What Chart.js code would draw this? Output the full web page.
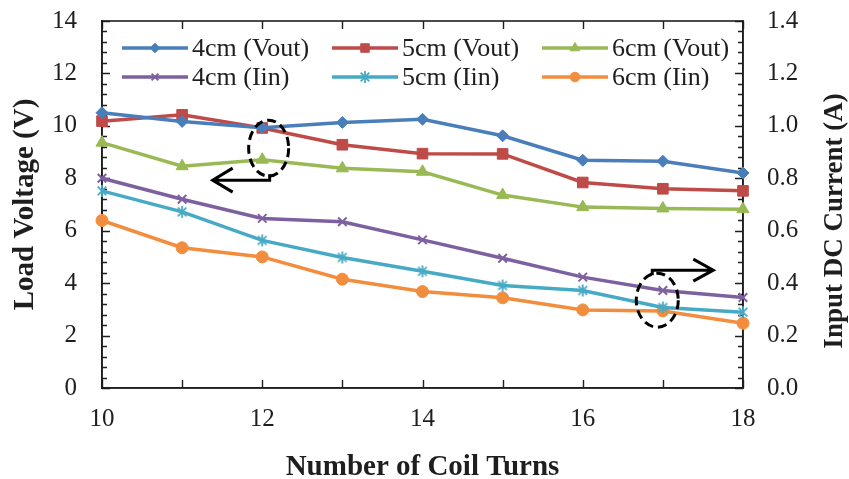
<!DOCTYPE html>
<html>
<head>
<meta charset="utf-8">
<title>Load Voltage and Input DC Current vs Number of Coil Turns</title>
<script src="https://cdn.jsdelivr.net/npm/chart.js@4.4.1/dist/chart.umd.min.js"></script>
<style>
  html, body { margin: 0; padding: 0; background: #ffffff; }
  #wrap { width: 849px; height: 479px; position: relative; }
</style>
</head>
<body>
<div id="wrap"><canvas id="chart"></canvas></div>
<script>
// Number of coil turns (x axis)
const turns = [10, 11, 12, 13, 14, 15, 16, 17, 18];

// Load voltage (V), left axis
const vout4cm = [10.50, 10.17, 9.93, 10.13, 10.25, 9.62, 8.69, 8.65, 8.20];
const vout5cm = [10.18, 10.42, 9.92, 9.28, 8.94, 8.93, 7.84, 7.60, 7.52];
const vout6cm = [9.36, 8.46, 8.71, 8.38, 8.25, 7.36, 6.90, 6.85, 6.82];

// Input DC current (A), right axis
const iin4cm = [0.800, 0.720, 0.647, 0.634, 0.565, 0.495, 0.423, 0.372, 0.345];
const iin5cm = [0.752, 0.672, 0.563, 0.498, 0.445, 0.391, 0.372, 0.307, 0.289];
const iin6cm = [0.639, 0.535, 0.500, 0.415, 0.368, 0.344, 0.298, 0.294, 0.247];

const seriesNames = ['4cm (Vout)', '5cm (Vout)', '6cm (Vout)', '4cm (Iin)', '5cm (Iin)', '6cm (Iin)'];

// Axis ranges and tick labels
const xTickValues = [10, 12, 14, 16, 18];
const voltTicks = [0, 2, 4, 6, 8, 10, 12, 14];
const currTicks = ['0.0', '0.2', '0.4', '0.6', '0.8', '1.0', '1.2', '1.4'];
const axisTitles = { x: 'Number of Coil Turns', left: 'Load Voltage (V)', right: 'Input DC Current (A)' };

const FONT = "'Liberation Serif', 'Times New Roman', serif";
const INK = '#1e1e1e';
const COLORS = ['#4A7EBB', '#BE4B48', '#98B954', '#7D60A0', '#46AAC5', '#F38D3E'];

// Office-style "star" marker: an x with a vertical bar
function officeStar(r, color) {
  const s = Math.ceil(2 * r + 4);
  const cv = document.createElement('canvas');
  cv.width = s; cv.height = s;
  const g = cv.getContext('2d');
  const c = s / 2, d = r * 0.72;
  g.strokeStyle = color; g.lineWidth = 1.8;
  g.beginPath();
  g.moveTo(c - d, c - d); g.lineTo(c + d, c + d);
  g.moveTo(c + d, c - d); g.lineTo(c - d, c + d);
  g.moveTo(c, c - r); g.lineTo(c, c + r);
  g.stroke();
  return cv;
}

const markers = [
  { style: 'rectRot', radius: 6, bw: 1 },
  { style: 'rect', radius: 7.5, bw: 1 },
  { style: 'triangle', radius: 7, bw: 1 },
  { style: 'crossRot', radius: 6, bw: 2 },
  { style: officeStar(6, COLORS[4]), radius: 6, bw: 1 },
  { style: 'circle', radius: 6, bw: 1 }
];

const seriesData = [vout4cm, vout5cm, vout6cm, iin4cm, iin5cm, iin6cm];

const datasets = seriesData.map((vals, i) => ({
  label: seriesNames[i],
  data: turns.map((t, k) => ({ x: t, y: vals[k] })),
  yAxisID: i < 3 ? 'y' : 'y1',
  borderColor: COLORS[i],
  backgroundColor: COLORS[i],
  pointBackgroundColor: COLORS[i],
  pointBorderColor: COLORS[i],
  borderWidth: 3.5,
  pointStyle: markers[i].style,
  pointRadius: markers[i].radius,
  pointHoverRadius: markers[i].radius,
  pointBorderWidth: markers[i].bw,
  tension: 0,
  clip: false
}));

// Frame around the plot area plus inward tick marks on all four sides
const framePlugin = {
  id: 'frame',
  beforeDatasetsDraw(chart) {
    const { ctx, chartArea: a, scales } = chart;
    ctx.save();
    ctx.strokeStyle = INK;
    ctx.lineWidth = 1.6;
    ctx.strokeRect(a.left, a.top, a.right - a.left, a.bottom - a.top);
    ctx.lineWidth = 1.4;
    ctx.beginPath();
    // x: a tick at every turn count, bottom and top
    for (let t = 10; t <= 18; t++) {
      const px = Math.round(scales.x.getPixelForValue(t)) + 0.5;
      ctx.moveTo(px, a.bottom); ctx.lineTo(px, a.bottom - 8);
      ctx.moveTo(px, a.top); ctx.lineTo(px, a.top + 8);
    }
    // left: major every 2 V, minor every 0.4 V
    for (let k = 0; k <= 35; k++) {
      const py = Math.round(scales.y.getPixelForValue(k * 0.4)) + 0.5;
      const len = (k % 5 === 0) ? 8 : 5;
      ctx.moveTo(a.left, py); ctx.lineTo(a.left + len, py);
    }
    // right: major every 0.2 A, minor every 0.04 A
    for (let k = 0; k <= 35; k++) {
      const py = Math.round(scales.y1.getPixelForValue(k * 0.04)) + 0.5;
      const len = (k % 5 === 0) ? 8 : 5;
      ctx.moveTo(a.right, py); ctx.lineTo(a.right - len, py);
    }
    ctx.stroke();
    ctx.restore();
  },
  afterDatasetsDraw(chart) {
    const { ctx, chartArea: a, scales } = chart;
    const helpers = Chart.helpers;
    ctx.save();

    // In-plot legend, two rows of three
    const colX = [122, 332, 542];
    const rowY = [48, 77];
    seriesNames.forEach((name, i) => {
      const x0 = colX[i % 3], y = rowY[Math.floor(i / 3)];
      ctx.strokeStyle = COLORS[i];
      ctx.fillStyle = COLORS[i];
      ctx.lineWidth = 3.5;
      ctx.lineCap = 'butt';
      ctx.beginPath(); ctx.moveTo(x0, y); ctx.lineTo(x0 + 66, y); ctx.stroke();
      ctx.lineWidth = markers[i].bw;
      helpers.drawPoint(ctx, {
        pointStyle: markers[i].style,
        radius: markers[i].radius * 0.8,
        borderWidth: markers[i].bw,
        rotation: 0
      }, x0 + 33, y);
      ctx.font = '26px ' + FONT;
      ctx.textBaseline = 'middle';
      ctx.textAlign = 'left';
      ctx.fillStyle = INK;
      ctx.fillText(name, x0 + 70, y + 1);
    });

    // Right-hand axis title, reading bottom to top
    ctx.save();
    ctx.font = 'bold 27px ' + FONT;
    ctx.fillStyle = INK;
    ctx.textAlign = 'center';
    ctx.textBaseline = 'middle';
    ctx.translate(835, 221);
    ctx.rotate(-Math.PI / 2);
    ctx.fillText(axisTitles.right, 0, 0);
    ctx.restore();

    // Dashed ellipses with arrows pointing to the axis each group uses
    ctx.strokeStyle = '#000';
    ctx.lineWidth = 3;
    const e1x = scales.x.getPixelForValue(12.08), e1y = scales.y.getPixelForValue(9.15);
    const e2x = scales.x.getPixelForValue(16.93), e2y = scales.y1.getPixelForValue(0.335);
    ctx.setLineDash([9, 5]);
    ctx.beginPath(); ctx.ellipse(e1x, e1y, 20, 28, 0, 0, Math.PI * 2); ctx.stroke();
    ctx.beginPath(); ctx.ellipse(e2x, e2y, 21, 27, 0, 0, Math.PI * 2); ctx.stroke();
    ctx.setLineDash([]);

    // arrow to the left axis
    let ay = e1y + 32;
    ctx.beginPath();
    ctx.moveTo(e1x + 1, e1y + 26); ctx.lineTo(e1x + 1, ay); ctx.lineTo(e1x - 56, ay);
    ctx.moveTo(e1x - 36, ay - 12); ctx.lineTo(e1x - 56, ay); ctx.lineTo(e1x - 36, ay + 12);
    ctx.stroke();

    // arrow to the right axis
    ay = e2y - 30;
    ctx.beginPath();
    ctx.moveTo(e2x - 5, e2y - 25); ctx.lineTo(e2x - 5, ay); ctx.lineTo(e2x + 56, ay);
    ctx.moveTo(e2x + 36, ay - 11); ctx.lineTo(e2x + 56, ay); ctx.lineTo(e2x + 36, ay + 11);
    ctx.stroke();

    ctx.restore();
  }
};

const tickFont = { family: FONT, size: 25 };
const titleFont = { family: FONT, size: 29, weight: 'bold' };
// invisible tick marks reserve the gap between axis line and labels
const spacerGrid = len => ({ display: true, drawOnChartArea: false, drawTicks: true, tickLength: len, tickColor: 'rgba(0,0,0,0)' });

new Chart(document.getElementById('chart'), {
  type: 'line',
  data: { datasets },
  options: {
    responsive: true,
    maintainAspectRatio: false,
    animation: false,
    devicePixelRatio: 1,
    layout: { padding: { top: 21, left: 0, right: 0, bottom: 0 } },
    plugins: { legend: { display: false }, tooltip: { enabled: false } },
    scales: {
      x: {
        type: 'linear', min: 10, max: 18,
        afterBuildTicks: s => { s.ticks = xTickValues.map(v => ({ value: v })); },
        ticks: { font: tickFont, color: INK, padding: 0, maxRotation: 0, autoSkip: false },
        grid: spacerGrid(16),
        border: { display: true, color: INK, width: 1.6 },
        title: { display: true, text: axisTitles.x, font: titleFont, color: INK, padding: { top: 0, bottom: -6 } },
        afterFit: s => { s.height = 479 - 388; }
      },
      y: {
        type: 'linear', position: 'left', min: 0, max: 14,
        afterBuildTicks: s => { s.ticks = voltTicks.map(v => ({ value: v })); },
        ticks: { font: tickFont, color: INK, padding: 0, callback: v => String(v) },
        grid: spacerGrid(25),
        border: { display: true, color: INK, width: 1.6 },
        title: { display: true, text: axisTitles.left, font: titleFont, color: INK, padding: { top: 8, bottom: 0 } },
        afterFit: s => { s.width = 102; }
      },
      y1: {
        type: 'linear', position: 'right', min: 0, max: 1.4,
        afterBuildTicks: s => { s.ticks = currTicks.map(t => ({ value: parseFloat(t) })); },
        ticks: { font: tickFont, color: INK, padding: 0, callback: (v, i) => currTicks[i] },
        grid: spacerGrid(24),
        border: { display: true, color: INK, width: 1.6 },
        afterFit: s => { s.width = 849 - 743; }
      }
    }
  },
  plugins: [framePlugin]
});
</script>
</body>
</html>
